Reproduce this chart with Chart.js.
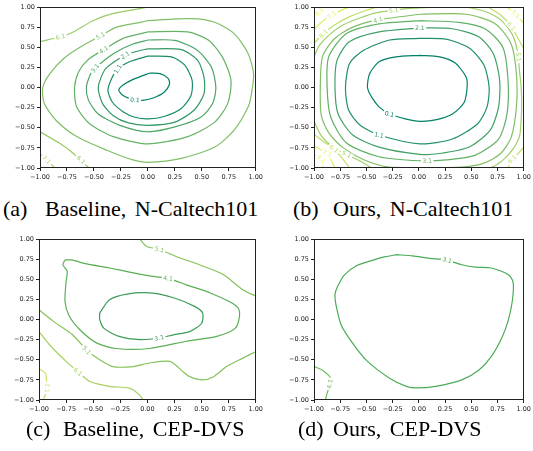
<!DOCTYPE html>
<html>
<head>
<meta charset="utf-8">
<script src="https://cdn.jsdelivr.net/npm/chart.js@4.4.1/dist/chart.umd.min.js"></script>
<style>
  body { margin: 0; background: #fff; width: 533px; height: 451px; position: relative; overflow: hidden; }
  canvas { position: absolute; }
  .cap { position: absolute; font-family: "Liberation Serif", serif; font-size: 22px; line-height: 22px; word-spacing: 3px; white-space: pre; color: #000; }
</style>
</head>
<body>
<canvas id="pa" width="265" height="185" style="left:0;top:0"></canvas>
<canvas id="pb" width="263" height="185" style="left:270px;top:0"></canvas>
<canvas id="pc" width="265" height="185" style="left:0;top:232px"></canvas>
<canvas id="pd" width="263" height="185" style="left:270px;top:232px"></canvas>

<div class="cap" style="left:3px;top:198px">(a)</div>
<div class="cap" style="left:45px;top:198px">Baseline, N-Caltech101</div>
<div class="cap" style="left:293px;top:198px">(b)</div>
<div class="cap" style="left:333px;top:198px">Ours, N-Caltech101</div>
<div class="cap" style="left:26px;top:418px">(c)</div>
<div class="cap" style="left:63px;top:418px">Baseline, CEP-DVS</div>
<div class="cap" style="left:298px;top:418px">(d)</div>
<div class="cap" style="left:333px;top:418px">Ours, CEP-DVS</div>

<script>
// axis ticks shared by all four panels
const tickValues = [-1, -0.75, -0.5, -0.25, 0, 0.25, 0.5, 0.75, 1];

// ---- (a) Baseline, N-Caltech101 : contour lines [x, y]
const a01 = [[0.02,0.18],[0.12,0.17],[0.19,0.11],[0.20,0.04],[0.15,-0.06],[0.05,-0.13],[-0.05,-0.16],[-0.14,-0.15],[-0.23,-0.10],[-0.27,-0.03],[-0.22,0.04],[-0.12,0.11],[0.02,0.18]];
const a11 = [[0.0,0.39],[0.22,0.38],[0.34,0.28],[0.41,0.09],[0.40,-0.10],[0.31,-0.26],[0.15,-0.36],[0.0,-0.39],[-0.12,-0.37],[-0.23,-0.30],[-0.33,-0.18],[-0.37,-0.04],[-0.34,0.10],[-0.28,0.23],[-0.17,0.32],[0.0,0.39]];
const a21 = [[0.0,0.48],[0.31,0.47],[0.46,0.34],[0.52,0.13],[0.52,-0.08],[0.43,-0.28],[0.25,-0.43],[0.0,-0.47],[-0.18,-0.44],[-0.32,-0.35],[-0.42,-0.20],[-0.46,0.0],[-0.40,0.22],[-0.30,0.33],[-0.21,0.40],[-0.10,0.45],[0.0,0.48]];
const a31 = [[0.0,0.59],[0.25,0.585],[0.46,0.46],[0.59,0.25],[0.63,0.0],[0.60,-0.20],[0.49,-0.37],[0.25,-0.49],[0.0,-0.55],[-0.26,-0.47],[-0.46,-0.33],[-0.55,-0.16],[-0.57,0.0],[-0.53,0.17],[-0.49,0.24],[-0.32,0.42],[-0.14,0.54],[0.0,0.59]];
const a41 = [[0.0,0.69],[0.37,0.69],[0.56,0.59],[0.69,0.38],[0.77,0.09],[0.74,-0.20],[0.62,-0.43],[0.37,-0.61],[0.0,-0.70],[-0.32,-0.61],[-0.54,-0.45],[-0.66,-0.24],[-0.68,0.0],[-0.64,0.20],[-0.55,0.35],[-0.41,0.47],[-0.23,0.61],[0.0,0.69]];
const a51 = [[0.0,0.83],[0.40,0.855],[0.62,0.81],[0.80,0.67],[0.93,0.42],[0.98,0.17],[0.96,-0.08],[0.93,-0.24],[0.80,-0.53],[0.62,-0.74],[0.31,-0.88],[0.0,-0.93],[-0.14,-0.90],[-0.38,-0.78],[-0.66,-0.61],[-0.85,-0.41],[-0.96,-0.20],[-0.975,0.0],[-0.91,0.17],[-0.78,0.36],[-0.63,0.50],[-0.44,0.64],[-0.29,0.75],[-0.07,0.81],[0.0,0.83]];
const a61top = [[-1,0.57],[-0.81,0.63],[-0.69,0.69],[-0.51,0.83],[-0.32,0.92],[-0.07,0.98],[0.0,1.0]];
const a61bot = [[-1,-0.55],[-0.81,-0.70],[-0.69,-0.82],[-0.60,-0.94],[-0.54,-1.0]];
const a71 = [[-1,-0.82],[-0.94,-0.90],[-0.86,-1.0]];
const aLabels = [[-0.12,-0.155,'0.1'],[-0.28,0.23,'1.1'],[-0.21,0.40,'2.1'],[-0.49,0.24,'3.1'],[-0.41,0.47,'4.1'],[-0.44,0.64,'5.1'],[-0.81,0.63,'6.1'],[-0.62,-0.90,'6.1'],[-0.94,-0.90,'7.1']];

// ---- (b) Ours, N-Caltech101
const b01 = [[0.01,0.40],[0.20,0.38],[0.35,0.30],[0.45,0.13],[0.46,0.0],[0.43,-0.19],[0.32,-0.33],[0.17,-0.40],[0.01,-0.42],[-0.13,-0.39],[-0.28,-0.33],[-0.38,-0.24],[-0.45,-0.12],[-0.49,0.0],[-0.47,0.17],[-0.38,0.32],[-0.22,0.38],[0.01,0.40]];
const b11 = [[0.01,0.61],[0.26,0.60],[0.48,0.49],[0.62,0.28],[0.67,0.0],[0.65,-0.24],[0.56,-0.45],[0.32,-0.64],[0.01,-0.70],[-0.38,-0.59],[-0.56,-0.47],[-0.67,-0.28],[-0.70,0.0],[-0.66,0.30],[-0.53,0.46],[-0.28,0.59],[0.01,0.61]];
const b21 = [[0.01,0.74],[0.32,0.73],[0.57,0.63],[0.71,0.42],[0.77,0.09],[0.76,-0.24],[0.68,-0.53],[0.48,-0.74],[0.20,-0.82],[0.01,-0.83],[-0.38,-0.74],[-0.63,-0.59],[-0.77,-0.33],[-0.80,0.0],[-0.78,0.34],[-0.66,0.57],[-0.38,0.69],[0.01,0.74]];
const b31 = [[0.01,0.83],[0.38,0.81],[0.63,0.73],[0.80,0.50],[0.85,0.09],[0.84,-0.33],[0.76,-0.64],[0.54,-0.84],[0.26,-0.90],[0.01,-0.91],[-0.38,-0.86],[-0.69,-0.69],[-0.84,-0.37],[-0.875,0.0],[-0.86,0.38],[-0.69,0.67],[-0.38,0.79],[0.01,0.83]];
const b41 = [[0.01,0.91],[0.45,0.91],[0.73,0.79],[0.88,0.54],[0.93,0.17],[0.93,-0.24],[0.88,-0.62],[0.78,-0.82],[0.62,-0.94],[0.40,-0.99],[0.01,-0.995],[-0.28,-0.99],[-0.52,-0.90],[-0.72,-0.75],[-0.86,-0.56],[-0.93,-0.35],[-0.94,0.0],[-0.92,0.38],[-0.81,0.60],[-0.63,0.75],[-0.39,0.84],[0.01,0.91]];
const b51tl = [[-1,0.38],[-0.95,0.52],[-0.85,0.66],[-0.72,0.78],[-0.55,0.87],[-0.40,0.93],[-0.24,0.96],[-0.05,0.985],[0.15,1.0]];
const b51r = [[0.45,1.0],[0.62,0.95],[0.78,0.84],[0.89,0.66],[0.94,0.45],[0.96,0.2],[0.975,0.0],[0.98,-0.2],[0.975,-0.4],[0.96,-0.6],[0.90,-0.76],[0.82,-0.88],[0.74,-0.96],[0.68,-1.0]];
const b51bl = [[-1,-0.42],[-0.93,-0.60],[-0.82,-0.74],[-0.69,-0.83],[-0.55,-0.92],[-0.45,-1.0]];
const b61tl = [[-1,0.55],[-0.91,0.67],[-0.80,0.78],[-0.66,0.88],[-0.50,0.96],[-0.40,1.0]];
const b61tr = [[0.66,1.0],[0.78,0.90],[0.88,0.76],[0.95,0.60],[1.0,0.48]];
const b61bl = [[-1,-0.58],[-0.90,-0.68],[-0.81,-0.76],[-0.73,-0.88],[-0.66,-1.0]];
const b61br = [[1,-0.74],[0.94,-0.83],[0.89,-0.89],[0.85,-1.0]];
const b71tl = [[-1,0.72],[-0.92,0.82],[-0.83,0.90],[-0.72,0.97],[-0.66,1.0]];
const b71tr = [[0.84,1.0],[0.92,0.91],[1.0,0.80]];
const b71bl = [[-1,-0.72],[-0.93,-0.78],[-0.875,-0.82],[-0.83,-0.92],[-0.80,-1.0]];
const b81tl = [[-1,0.88],[-0.95,0.94],[-0.91,1.0]];
const b81bl = [[-1,-0.84],[-0.95,-0.86],[-0.92,-0.90],[-0.91,-1.0]];
const bLabels = [[-0.28,-0.33,'0.1'],[-0.38,-0.59,'1.1'],[0.01,0.74,'2.1'],[0.08,-0.91,'3.1'],[-0.39,0.84,'4.1'],[-0.24,0.96,'5.1'],[-0.69,-0.83,'5.1'],[0.95,0.38,'5.1'],[-0.91,0.67,'6.1'],[-0.81,-0.76,'6.1'],[0.88,0.76,'6.1'],[0.89,-0.89,'6.1'],[-0.83,0.90,'7.1'],[-0.875,-0.82,'7.1'],[0.92,0.91,'7.1'],[-0.95,0.94,'8.1'],[-0.93,-0.89,'8.1']];

// ---- (c) Baseline, CEP-DVS
const c31 = [[-0.44,0.08],[-0.35,0.245],[-0.19,0.315],[0.02,0.33],[0.24,0.27],[0.44,0.16],[0.51,0.08],[0.50,-0.05],[0.39,-0.15],[0.24,-0.19],[0.11,-0.23],[-0.07,-0.25],[-0.26,-0.21],[-0.40,-0.11],[-0.44,0.0],[-0.44,0.08]];
const c41 = [[-0.76,0.74],[-0.70,0.74],[-0.56,0.69],[-0.35,0.64],[-0.13,0.58],[0.05,0.535],[0.19,0.51],[0.36,0.43],[0.58,0.33],[0.76,0.22],[0.84,0.14],[0.85,0.04],[0.81,-0.11],[0.64,-0.21],[0.36,-0.27],[0.02,-0.36],[-0.29,-0.36],[-0.47,-0.29],[-0.62,-0.13],[-0.72,0.04],[-0.76,0.22],[-0.75,0.47],[-0.74,0.60],[-0.78,0.68],[-0.76,0.74]];
const c51top = [[-0.07,1.0],[-0.01,0.91],[0.11,0.87],[0.27,0.78],[0.48,0.68],[0.70,0.56],[0.88,0.37],[1.0,0.29]];
const c51bot = [[-1,0.12],[-0.87,-0.02],[-0.69,-0.19],[-0.56,-0.38],[-0.44,-0.50],[-0.32,-0.585],[-0.13,-0.585],[0.02,-0.54],[0.21,-0.52],[0.33,-0.65],[0.39,-0.71],[0.51,-0.75],[0.61,-0.71],[0.73,-0.585],[0.88,-0.48],[1.0,-0.40]];
const c61 = [[-1,-0.15],[-0.90,-0.32],[-0.75,-0.52],[-0.64,-0.65],[-0.53,-0.77],[-0.35,-0.83],[-0.16,-0.855],[-0.07,-0.94],[-0.04,-1.0]];
const c71 = [[-1,-0.61],[-0.94,-0.67],[-0.93,-0.78],[-0.93,-0.90],[-0.95,-0.96],[-0.96,-1.0]];
const cLabels = [[0.11,-0.23,'3.1'],[0.19,0.51,'4.1'],[0.11,0.87,'5.1'],[-0.56,-0.38,'5.1'],[-0.64,-0.65,'6.1'],[-0.93,-0.85,'7.1']];

// ---- (d) Ours, CEP-DVS
const d31 = [[-0.21,0.805],[-0.06,0.79],[0.10,0.76],[0.26,0.74],[0.41,0.68],[0.54,0.65],[0.69,0.64],[0.82,0.58],[0.87,0.535],[0.90,0.45],[0.89,0.22],[0.85,-0.02],[0.79,-0.23],[0.69,-0.46],[0.57,-0.63],[0.41,-0.75],[0.16,-0.83],[-0.025,-0.85],[-0.12,-0.83],[-0.28,-0.73],[-0.49,-0.52],[-0.62,-0.315],[-0.74,-0.07],[-0.79,0.18],[-0.80,0.31],[-0.775,0.41],[-0.71,0.555],[-0.59,0.67],[-0.43,0.74],[-0.32,0.78],[-0.21,0.805]];
const d41 = [[-1,-0.585],[-0.92,-0.63],[-0.84,-0.73],[-0.85,-0.81],[-0.88,-0.94],[-0.89,-1.0]];
const dLabels = [[0.27,0.738,'3.1'],[-0.85,-0.80,'4.1']];

// line colours per level
const colA = { '0.1':'#008066', '1.1':'#1a8d66', '2.1':'#339966', '3.1':'#4da666', '4.1':'#66b366', '5.1':'#80bf66', '6.1':'#99cc66', '7.1':'#b3d966' };
const colB = { '0.1':'#008066', '1.1':'#209066', '2.1':'#40a066', '3.1':'#60b066', '4.1':'#80bf66', '5.1':'#9fcf66', '6.1':'#bfdf66', '7.1':'#dfef66', '8.1':'#f2f25c' };
const colC = { '3.1':'#3d9c58', '4.1':'#5aae55', '5.1':'#85c25a', '6.1':'#a5d160', '7.1':'#c8e26a' };
const colD = { '3.1':'#4aac58', '4.1':'#6cbb5a' };

function line(pts, color) {
  return {
    data: pts.map(([x, y]) => ({ x, y })),
    borderColor: color,
    borderWidth: 1.2,
    showLine: true,
    pointRadius: 0,
    tension: 0.25,
    fill: false
  };
}

const fmt = v => (v < 0 ? '\u2212' : '') + Math.abs(v).toFixed(2);

// contour labels: white gap plus small text along the nearest line
const contourLabels = {
  id: 'contourLabels',
  afterDatasetsDraw(chart, args, opts) {
    const { ctx } = chart;
    const xs = chart.scales.x, ys = chart.scales.y;
    ctx.save();
    ctx.font = '6px "DejaVu Sans"';
    ctx.textAlign = 'center';
    ctx.textBaseline = 'middle';
    for (const [lx, ly, txt] of opts.items) {
      const px = xs.getPixelForValue(lx), py = ys.getPixelForValue(ly);
      let best = Infinity, ang = 0, col = '#666';
      chart.data.datasets.forEach(ds => {
        const p = ds.data;
        for (let i = 0; i < p.length - 1; i++) {
          const x1 = xs.getPixelForValue(p[i].x), y1 = ys.getPixelForValue(p[i].y);
          const x2 = xs.getPixelForValue(p[i + 1].x), y2 = ys.getPixelForValue(p[i + 1].y);
          const dx = x2 - x1, dy = y2 - y1, L = dx * dx + dy * dy || 1;
          let t = ((px - x1) * dx + (py - y1) * dy) / L;
          t = Math.max(0, Math.min(1, t));
          const d = Math.hypot(px - (x1 + t * dx), py - (y1 + t * dy));
          if (d < best) { best = d; ang = Math.atan2(dy, dx); col = ds.borderColor; }
        }
      });
      if (ang > Math.PI / 2) ang -= Math.PI;
      if (ang < -Math.PI / 2) ang += Math.PI;
      const w = ctx.measureText(txt).width + 3;
      ctx.save();
      ctx.translate(px, py);
      ctx.rotate(ang);
      ctx.fillStyle = '#fff';
      ctx.fillRect(-w / 2, -3, w, 6);
      ctx.fillStyle = col;
      ctx.fillText(txt, 0, 0.5);
      ctx.restore();
    }
    ctx.restore();
  }
};

const frame = {
  id: 'frame',
  afterDraw(chart) {
    const { ctx, chartArea: a } = chart;
    ctx.save();
    ctx.strokeStyle = '#222';
    ctx.lineWidth = 1;
    ctx.strokeRect(Math.round(a.left) + 0.5, Math.round(a.top) + 0.5, Math.round(a.right - a.left) - 1, Math.round(a.bottom - a.top) - 1);
    ctx.restore();
  }
};

function axis(isY, size) {
  return {
    type: 'linear',
    min: -1,
    max: 1,
    afterBuildTicks: s => { s.ticks = tickValues.map(v => ({ value: v })); },
    afterFit: s => { if (isY) s.width = size; else s.height = size; },
    ticks: {
      autoSkip: false,
      maxRotation: 0,
      padding: 2,
      color: '#222',
      font: { family: 'DejaVu Sans', size: 6.5 },
      callback: v => fmt(v)
    },
    grid: { display: true, drawOnChartArea: false, drawTicks: true, tickLength: 3, color: '#222', lineWidth: 1 },
    border: { display: false }
  };
}

function panel(id, sets, labels, yWidth, padRight) {
  new Chart(document.getElementById(id), {
    type: 'scatter',
    data: { datasets: sets },
    options: {
      responsive: false,
      animation: false,
      devicePixelRatio: 1,
      layout: { padding: { top: 7, right: padRight, left: 0, bottom: 0 } },
      plugins: {
        legend: { display: false },
        tooltip: { enabled: false },
        contourLabels: { items: labels }
      },
      scales: { x: axis(false, 17), y: axis(true, yWidth) }
    },
    plugins: [contourLabels, frame]
  });
}

panel('pa', [
  line(a01, colA['0.1']), line(a11, colA['1.1']), line(a21, colA['2.1']), line(a31, colA['3.1']),
  line(a41, colA['4.1']), line(a51, colA['5.1']), line(a61top, colA['6.1']), line(a61bot, colA['6.1']),
  line(a71, colA['7.1'])
], aLabels, 40, 9);

panel('pb', [
  line(b01, colB['0.1']), line(b11, colB['1.1']), line(b21, colB['2.1']), line(b31, colB['3.1']),
  line(b41, colB['4.1']), line(b51tl, colB['5.1']), line(b51r, colB['5.1']), line(b51bl, colB['5.1']),
  line(b61tl, colB['6.1']), line(b61tr, colB['6.1']), line(b61bl, colB['6.1']), line(b61br, colB['6.1']),
  line(b71tl, colB['7.1']), line(b71tr, colB['7.1']), line(b71bl, colB['7.1']),
  line(b81tl, colB['8.1']), line(b81bl, colB['8.1'])
], bLabels, 44, 5);

panel('pc', [
  line(c31, colC['3.1']), line(c41, colC['4.1']), line(c51top, colC['5.1']), line(c51bot, colC['5.1']),
  line(c61, colC['6.1']), line(c71, colC['7.1'])
], cLabels, 39, 9);

panel('pd', [
  line(d31, colD['3.1']), line(d41, colD['4.1'])
], dLabels, 44, 5);
</script>
</body>
</html>
